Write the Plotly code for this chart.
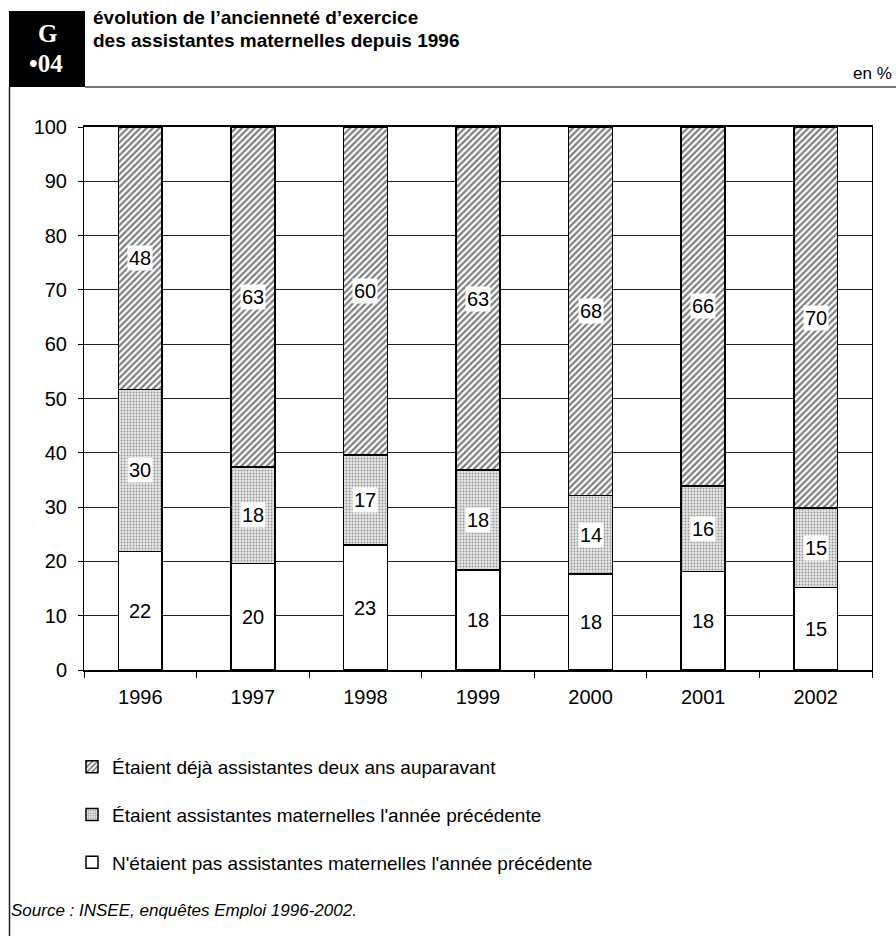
import plotly.graph_objects as go

years = ["1996", "1997", "1998", "1999", "2000", "2001", "2002"]
names = [
    "N'étaient pas assistantes maternelles l'année précédente",
    "Étaient assistantes maternelles l'année précédente",
    "Étaient déjà assistantes deux ans auparavant",
]
pas_avant = [21.8, 19.6, 23.0, 18.4, 17.7, 18.1, 15.2]
annee_prec = [29.9, 17.8, 16.6, 18.4, 14.4, 15.8, 14.6]
deux_ans = [48.3, 62.6, 60.4, 63.2, 67.9, 66.1, 70.2]
lab_pas = ["22", "20", "23", "18", "18", "18", "15"]
lab_prec = ["30", "18", "17", "18", "14", "16", "15"]
lab_deux = ["48", "63", "60", "63", "68", "66", "70"]
y_ticks = [0, 10, 20, 30, 40, 50, 60, 70, 80, 90, 100]

W, H = 896, 936
L, R, T, B = 84, 24, 127, 266
pw, ph = W - L - R, H - T - B


def px(x):
    return (x - L) / pw


def py(y):
    return (H - B - y) / ph


FONT = "Liberation Sans, Arial, sans-serif"
series = [pas_avant, annee_prec, deux_ans]
labels = [lab_pas, lab_prec, lab_deux]
patterns = [
    None,
    dict(shape=".", fgcolor="#444444", bgcolor="#e6e6e6", size=3, solidity=0.3),
    dict(shape="/", fgcolor="#000000", bgcolor="white", size=4.5, solidity=0.5),
]

fig = go.Figure()
for i in range(3):
    marker = dict(color="white", line=dict(color="black", width=1.5))
    if patterns[i] is not None:
        marker["pattern"] = patterns[i]
    fig.add_trace(go.Bar(
        x=years, y=series[i], name=names[i],
        legendgroup=str(i), legendrank=10 - i,
        marker=marker,
        width=0.39,
    ))

annotations = []
for j in range(len(years)):
    base = 0.0
    for i in range(3):
        v = series[i][j]
        annotations.append(dict(
            x=j, y=base + v / 2, xref="x", yref="y", text=labels[i][j],
            showarrow=False, bgcolor="white", borderpad=1,
            font=dict(family=FONT, size=20, color="black")))
        base += v

annotations += [
    dict(x=px(47), y=py(33), xref="paper", yref="paper", text="<b>G</b>",
         showarrow=False, xanchor="center", yanchor="middle",
         font=dict(family="Liberation Serif, Times New Roman, serif", size=25, color="white")),
    dict(x=px(46), y=py(64), xref="paper", yref="paper", text="<b>•04</b>",
         showarrow=False, xanchor="center", yanchor="middle",
         font=dict(family="Liberation Serif, Times New Roman, serif", size=25, color="white")),
    dict(x=px(91), y=py(18), xref="paper", yref="paper",
         text="<b>évolution de l’ancienneté d’exercice</b>",
         showarrow=False, xanchor="left", yanchor="middle",
         font=dict(family="Liberation Sans Narrow, Arial Narrow, Liberation Sans", size=19, color="black")),
    dict(x=px(91), y=py(41), xref="paper", yref="paper",
         text="<b>des assistantes maternelles depuis 1996</b>",
         showarrow=False, xanchor="left", yanchor="middle",
         font=dict(family="Liberation Sans Narrow, Arial Narrow, Liberation Sans", size=19, color="black")),
    dict(x=px(894), y=py(74), xref="paper", yref="paper", text="en %",
         showarrow=False, xanchor="right", yanchor="middle",
         font=dict(family=FONT, size=17, color="black")),
    dict(x=px(9), y=py(910), xref="paper", yref="paper",
         text="<i>Source : INSEE, enquêtes Emploi 1996-2002.</i>",
         showarrow=False, xanchor="left", yanchor="middle",
         font=dict(family=FONT, size=17, color="black")),
]

shapes = [
    dict(type="rect", xref="paper", yref="paper", x0=px(9), x1=px(85),
         y0=py(87), y1=py(11), fillcolor="black", line=dict(width=0), layer="below"),
    dict(type="line", xref="paper", yref="paper", x0=px(85), x1=px(896),
         y0=py(87), y1=py(87), line=dict(color="#777777", width=2)),
    dict(type="line", xref="paper", yref="paper", x0=px(9.5), x1=px(9.5),
         y0=py(87), y1=py(936), line=dict(color="#222222", width=1.5)),
]

fig.update_layout(
    width=W, height=H,
    margin=dict(l=L, r=R, t=T, b=B),
    paper_bgcolor="white", plot_bgcolor="white",
    barmode="stack",
    font=dict(family=FONT, size=20, color="black"),
    showlegend=True,
    legend=dict(x=px(72), y=py(748), xanchor="left", yanchor="top",
                traceorder="grouped", tracegroupgap=20,
                font=dict(family=FONT, size=19, color="black"),
                itemwidth=30, bgcolor="rgba(0,0,0,0)"),
    annotations=annotations,
    shapes=shapes,
    xaxis=dict(type="category", range=[-0.5, len(years) - 0.5],
               showline=True, linecolor="black", linewidth=1.5, mirror=True,
               ticks="outside", tickson="boundaries", ticklen=6, tickcolor="black",
               tickfont=dict(family=FONT, size=20), showgrid=False, tickangle=0,
               ticklabelstandoff=8),
    yaxis=dict(range=[0, 100], tickvals=y_ticks, showline=True, linecolor="black",
               linewidth=1, mirror=True, ticks="outside", ticklen=5, tickcolor="black",
               showgrid=True, gridcolor="#222222", gridwidth=1,
               tickfont=dict(family=FONT, size=20), zeroline=False,
               ticklabelstandoff=7),
)

fig.write_html("out.html", config={"displayModeBar": False},
               post_script="document.body.style.margin='0px';")
